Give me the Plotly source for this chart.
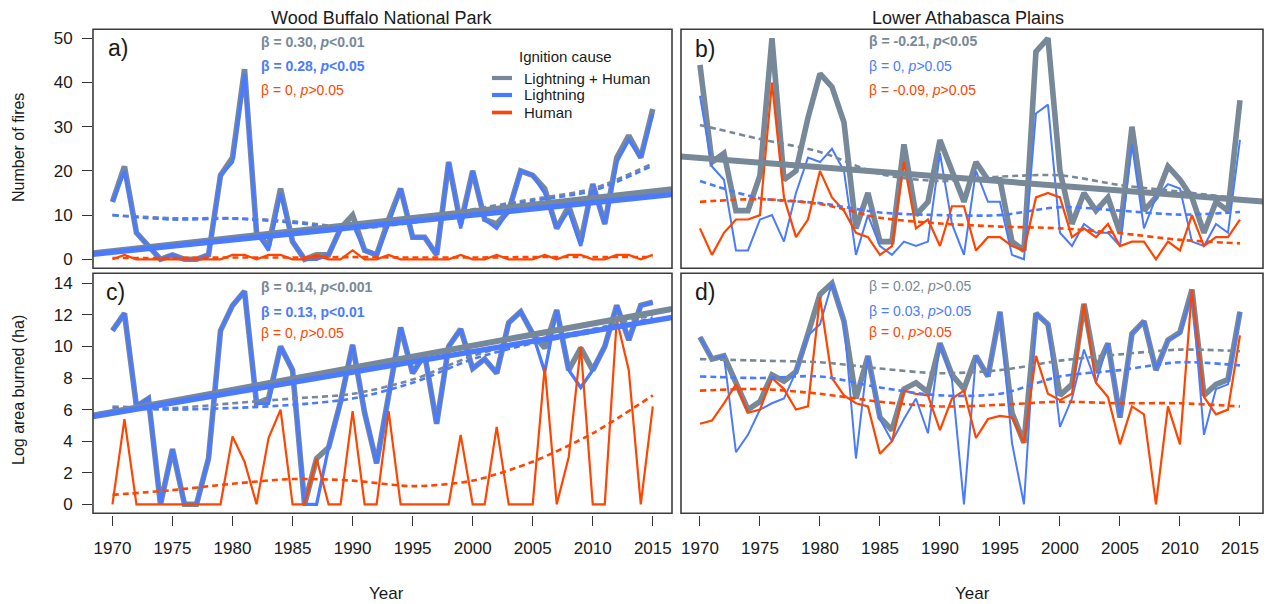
import plotly.graph_objects as go

# ---------------------------------------------------------------- data
years = list(range(1970, 2016))
knot_years = [1970, 1975, 1980, 1985, 1990, 1995, 2000, 2005, 2010, 2015]
tick_years = [1970, 1975, 1980, 1985, 1990, 1995, 2000, 2005, 2010, 2015]

# a) Wood Buffalo National Park - number of fires
wb_fires_total = [13, 21, 6, 3, 0, 1, 0, 0, 1, 19, 23, 43, 6, 3, 16, 4, 0, 1, 1, 7,
                  10, 2, 1, 9, 16, 5, 5, 1, 22, 8, 20, 9, 8, 11, 20, 19, 16, 7, 12, 4,
                  17, 8, 23, 28, 23, 34]
wb_fires_lightning = [13, 20, 6, 3, 0, 1, 0, 0, 1, 19, 22, 42, 6, 2, 15, 4, 0, 0, 1, 7,
                      8, 2, 1, 8, 16, 5, 5, 1, 22, 7, 20, 9, 7, 11, 20, 19, 15, 7, 11, 3,
                      17, 8, 22, 27, 23, 33]
wb_fires_human = [0, 1, 0, 0, 0, 0, 0, 0, 0, 0, 1, 1, 0, 1, 1, 0, 0, 1, 0, 0,
                  2, 0, 0, 1, 0, 0, 0, 0, 0, 1, 0, 0, 1, 0, 0, 0, 1, 0, 1, 1,
                  0, 0, 1, 1, 0, 1]
wb_fires_smooth_total = [10.0, 9.3, 9.3, 8.6, 7.2, 8.6, 11.3, 13.6, 16.0, 21.7]
wb_fires_smooth_lightning = [10.0, 9.0, 9.2, 8.3, 7.0, 8.3, 11.0, 13.2, 15.5, 21.2]
wb_fires_smooth_human = [0.3, 0.3, 0.4, 0.4, 0.5, 0.4, 0.4, 0.5, 0.5, 0.5]

# b) Lower Athabasca Plains - number of fires
lap_fires_total = [44, 22, 24, 11, 11, 19, 50, 18, 20, 32, 42, 39, 31, 7, 15, 4, 4, 26, 10, 13,
                   27, 20, 13, 22, 18, 18, 4, 2, 47, 50, 20, 8, 15, 11, 14, 6, 30, 11, 14, 21,
                   18, 14, 6, 13, 11, 36]
lap_fires_lightning = [37, 21, 18, 2, 2, 9, 10, 4, 15, 23, 22, 25, 20, 1, 10, 3, 1, 4, 3, 4,
                       24, 8, 1, 20, 13, 13, 1, 0, 33, 35, 6, 3, 8, 6, 6, 3, 26, 7, 14, 17,
                       16, 4, 3, 8, 6, 27]
lap_fires_human = [7, 1, 6, 9, 9, 10, 40, 14, 5, 9, 20, 14, 11, 6, 5, 1, 3, 22, 7, 9,
                   3, 12, 12, 2, 5, 5, 3, 2, 14, 15, 14, 5, 7, 5, 8, 3, 4, 4, 0, 4,
                   2, 10, 3, 5, 5, 9]
lap_fires_smooth_total = [30.4, 27.2, 24.3, 19.3, 17.7, 18.7, 19.0, 16.8, 15.3, 13.8]
lap_fires_smooth_lightning = [17.7, 13.8, 12.7, 10.6, 10.0, 10.0, 11.8, 11.0, 10.1, 10.7]
lap_fires_smooth_human = [13.0, 13.6, 12.5, 9.4, 8.1, 7.4, 7.0, 5.9, 4.4, 3.6]

# c) Wood Buffalo National Park - log area burned (ha)
wb_area_total = [11.0, 12.1, 6.2, 6.7, 0, 3.5, 0, 0, 2.9, 11.0, 12.6, 13.5, 6.4, 6.7, 10.0, 8.5,
                 0, 2.9, 3.6, 6.5, 10.1, 5.8, 2.6, 6.9, 11.2, 8.3, 9.5, 5.1, 10.0, 11.1, 8.6,
                 9.2, 8.3, 11.5, 12.2, 10.8, 9.9, 12.3, 8.5, 9.9, 8.5, 10.0, 12.6, 10.4, 12.6, 12.8]
wb_area_lightning = [11.0, 12.1, 6.2, 6.7, 0, 3.5, 0, 0, 2.9, 11.0, 12.6, 13.5, 6.4, 6.4, 10.0, 8.5,
                     0, 0, 3.6, 6.5, 10.1, 5.8, 2.6, 6.9, 11.2, 8.3, 9.5, 5.1, 10.0, 11.1, 8.6,
                     9.2, 8.3, 11.5, 12.2, 10.8, 8.4, 12.3, 8.5, 7.4, 8.5, 10.0, 12.6, 10.4, 12.6, 12.8]
wb_area_human = [0, 5.4, 0, 0, 0, 0, 0, 0, 0, 0, 4.3, 2.7, 0, 4.2, 6.0, 0, 0, 2.9, 0, 0,
                 5.9, 0, 0, 5.9, 0, 0, 0, 0, 0, 4.4, 0, 0, 4.9, 0, 0, 0, 8.7, 0, 3.0, 10.0,
                 0, 0, 11.7, 8.5, 0, 6.2]
wb_area_smooth_total = [6.2, 6.1, 6.4, 6.7, 7.0, 7.9, 9.4, 10.4, 11.1, 12.0]
wb_area_smooth_lightning = [6.1, 6.0, 6.1, 6.3, 6.7, 7.7, 9.2, 10.2, 10.9, 11.8]
wb_area_smooth_human = [0.6, 0.9, 1.3, 1.6, 1.5, 1.15, 1.5, 2.7, 4.5, 6.9]

# d) Lower Athabasca Plains - log area burned (ha)
lap_area_total = [10.6, 9.2, 9.4, 7.7, 6.0, 6.5, 8.2, 7.8, 8.4, 10.8, 13.3, 14.0, 11.6, 6.7, 9.4,
                  5.5, 4.7, 7.3, 7.7, 7.1, 10.2, 8.2, 7.3, 9.4, 8.1, 12.2, 5.8, 3.9, 12.1, 11.4,
                  6.9, 7.6, 12.7, 8.5, 10.2, 5.5, 10.8, 11.6, 8.5, 10.4, 10.9, 13.6, 6.9, 7.6, 7.9, 12.2]
lap_area_lightning = [10.6, 9.2, 9.4, 3.3, 4.4, 6.0, 6.4, 6.7, 8.4, 10.7, 11.4, 14.0, 11.6, 2.9, 9.4,
                      5.4, 4.0, 5.4, 6.7, 4.5, 10.2, 7.9, 0, 9.4, 8.1, 12.2, 3.9, 0, 12.1, 11.4,
                      4.9, 6.7, 9.8, 7.7, 10.2, 5.5, 10.8, 11.6, 8.5, 10.4, 10.8, 13.5, 4.4, 7.3, 7.6, 12.2]
lap_area_human = [5.1, 5.3, 6.4, 7.6, 5.8, 6.0, 8.0, 7.3, 6.0, 6.2, 13.1, 8.0, 6.9, 6.4, 6.2,
                  3.2, 4.0, 7.2, 7.0, 6.9, 4.7, 6.7, 7.2, 4.2, 5.4, 5.6, 5.5, 3.9, 9.4, 7.0,
                  6.6, 7.0, 12.7, 7.7, 6.8, 3.8, 6.2, 5.7, 0, 6.2, 3.8, 13.6, 6.8, 5.7, 6.0, 10.7]
lap_area_smooth_total = [9.2, 9.1, 9.0, 8.6, 8.3, 8.5, 9.1, 9.5, 9.8, 9.7]
lap_area_smooth_lightning = [8.1, 8.0, 8.1, 7.4, 6.9, 7.0, 8.1, 8.5, 9.0, 8.8]
lap_area_smooth_human = [7.2, 7.3, 7.0, 6.5, 6.2, 6.3, 6.5, 6.4, 6.4, 6.2]

# significant linear trends: slope (beta) and fitted value at the period midpoint
fit_mid_year = 1992.5
wb_fires_fit_total = (0.30, 8.6)
wb_fires_fit_lightning = (0.28, 7.9)
lap_fires_fit_total = (-0.21, 18.2)
wb_area_fit_total = (0.14, 9.0)
wb_area_fit_lightning = (0.13, 8.7)

# ---------------------------------------------------------------- styling
GREY = "#778899"
BLUE = "#4a7bff"
RED = "#ff4500"
FONT = "Liberation Sans, Arial, sans-serif"
W, H = 1270, 604


def px_x(p):
    return p / W


def px_y(p):
    return 1 - p / H


LEFT_DOM = [px_x(93), px_x(672)]
RIGHT_DOM = [px_x(681), px_x(1263)]
TOP_DOM = [px_y(268.3), px_y(29.3)]
BOT_DOM = [px_y(513.3), px_y(273.3)]
LEFT_RANGE = [1968.38, 2016.6]
RIGHT_RANGE = [1968.42, 2016.92]
FIRES_RANGE = [-2.04, 52.04]
AREA_RANGE = [-0.57, 14.634]

fig = go.Figure()


def add_panel(xa, ya, xrange, total, lightning, human, sm_total, sm_light, sm_human,
              light_width, fits):
    common = dict(xaxis=xa, yaxis=ya, mode="lines", showlegend=False, hoverinfo="skip")
    fig.add_trace(go.Scatter(x=years, y=total, line=dict(color=GREY, width=5.6), **common))
    fig.add_trace(go.Scatter(x=years, y=lightning, line=dict(color=BLUE, width=light_width), **common))
    fig.add_trace(go.Scatter(x=years, y=human, line=dict(color=RED, width=2.2), **common))
    for vals, col in ((sm_total, GREY), (sm_light, BLUE), (sm_human, RED)):
        fig.add_trace(go.Scatter(x=knot_years, y=vals, line=dict(color=col, width=2.6, dash="6px,4px",
                                                                 shape="spline", smoothing=0.8),
                                 **common))
    for (beta, mid), col, wd in fits:
        xs = [xrange[0], xrange[1]]
        ys = [mid + beta * (xv - fit_mid_year) for xv in xs]
        fig.add_trace(go.Scatter(x=xs, y=ys, line=dict(color=col, width=wd), **common))


add_panel("x", "y", LEFT_RANGE, wb_fires_total, wb_fires_lightning, wb_fires_human,
          wb_fires_smooth_total, wb_fires_smooth_lightning, wb_fires_smooth_human, 3.3,
          [(wb_fires_fit_total, GREY, 6), (wb_fires_fit_lightning, BLUE, 5.5)])
add_panel("x2", "y2", RIGHT_RANGE, lap_fires_total, lap_fires_lightning, lap_fires_human,
          lap_fires_smooth_total, lap_fires_smooth_lightning, lap_fires_smooth_human, 2.0,
          [(lap_fires_fit_total, GREY, 6)])
add_panel("x3", "y3", LEFT_RANGE, wb_area_total, wb_area_lightning, wb_area_human,
          wb_area_smooth_total, wb_area_smooth_lightning, wb_area_smooth_human, 3.3,
          [(wb_area_fit_total, GREY, 6), (wb_area_fit_lightning, BLUE, 5.5)])
add_panel("x4", "y4", RIGHT_RANGE, lap_area_total, lap_area_lightning, lap_area_human,
          lap_area_smooth_total, lap_area_smooth_lightning, lap_area_smooth_human, 2.0, [])

# ---------------------------------------------------------------- axes
hidden_x = dict(showticklabels=False, ticks="", showgrid=False, zeroline=False, showline=False)
bottom_x = dict(anchor="free", position=px_y(515), tickmode="array", tickvals=tick_years,
                ticks="outside", ticklen=10, tickwidth=1.3, tickcolor="#333",
                tickfont=dict(size=17, color="#1a1a1a", family=FONT), ticklabelstandoff=8,
                showgrid=False, zeroline=False, showline=False)
left_y = dict(ticks="outside", ticklen=10, tickwidth=1.3, tickcolor="#333",
              tickfont=dict(size=17, color="#1a1a1a", family=FONT), ticklabelstandoff=6,
              showgrid=False, zeroline=False, showline=False)
hidden_y = dict(showticklabels=False, ticks="", showgrid=False, zeroline=False, showline=False)

fig.update_layout(
    width=W, height=H, margin=dict(l=0, r=0, t=0, b=0),
    paper_bgcolor="white", plot_bgcolor="white",
    font=dict(family=FONT, color="#1a1a1a"),
    xaxis=dict(domain=LEFT_DOM, range=LEFT_RANGE, anchor="y", **hidden_x),
    yaxis=dict(domain=TOP_DOM, range=FIRES_RANGE, anchor="x", tickvals=[0, 10, 20, 30, 40, 50], **left_y),
    xaxis2=dict(domain=RIGHT_DOM, range=RIGHT_RANGE, anchor="y2", **hidden_x),
    yaxis2=dict(domain=TOP_DOM, range=FIRES_RANGE, anchor="x2", **hidden_y),
    xaxis3=dict(domain=LEFT_DOM, range=LEFT_RANGE, **bottom_x),
    yaxis3=dict(domain=BOT_DOM, range=AREA_RANGE, anchor="x3", tickvals=list(range(0, 15, 2)), **left_y),
    xaxis4=dict(domain=RIGHT_DOM, range=RIGHT_RANGE, **bottom_x),
    yaxis4=dict(domain=BOT_DOM, range=AREA_RANGE, anchor="x4", **hidden_y),
)

# panel frames
shapes = []
for xa, ya in (("x", "y"), ("x2", "y2"), ("x3", "y3"), ("x4", "y4")):
    shapes.append(dict(type="rect", xref=f"{xa} domain", yref=f"{ya} domain",
                       x0=0, x1=1, y0=0, y1=1, line=dict(color="#3c3c3c", width=1.6)))

# legend keys
legend_items = [("Lightning + Human", GREY, 4.2, 78), ("Lightning", BLUE, 4.2, 95), ("Human", RED, 3.6, 112.5)]
for _, col, wd, yy in legend_items:
    shapes.append(dict(type="line", xref="paper", yref="paper", x0=px_x(492), x1=px_x(512),
                       y0=px_y(yy), y1=px_y(yy), line=dict(color=col, width=wd)))
fig.update_layout(shapes=shapes)

ann = []


def text(x, y, s, size, color="#1a1a1a", xanchor="center", angle=0):
    ann.append(dict(x=px_x(x), y=px_y(y), xref="paper", yref="paper", text=s, showarrow=False,
                    xanchor=xanchor, yanchor="middle", textangle=angle,
                    font=dict(size=size, color=color, family=FONT)))


text(381, 18, "Wood Buffalo National Park", 18)
text(968, 18, "Lower Athabasca Plains", 18)
text(18, 148, "Number of fires", 16, angle=-90)
text(18, 390, "Log area burned (ha)", 16, angle=-90)
text(386, 593, "Year", 17)
text(972, 593, "Year", 17)
text(118, 48, "a)", 23)
text(705, 49, "b)", 23)
text(115, 292, "c)", 23)
text(705, 292, "d)", 23)

text(565, 56, "Ignition cause", 15)
for label, _, _, yy in legend_items:
    text(522, yy, label, 15, xanchor="left")

# trend statistics
text(259, 42, "<b>β = 0.30, <i>p</i>&lt;0.01</b>", 14, GREY, "left")
text(259, 66, "<b>β = 0.28, <i>p</i>&lt;0.05</b>", 14, BLUE, "left")
text(259, 90, "β = 0, <i>p</i>&gt;0.05", 14, RED, "left")

text(867, 41, "<b>β = -0.21, <i>p</i>&lt;0.05</b>", 14, GREY, "left")
text(867, 66, "β = 0, <i>p</i>&gt;0.05", 14, BLUE, "left")
text(867, 90, "β = -0.09, <i>p</i>&gt;0.05", 14, RED, "left")

text(259, 287, "<b>β = 0.14, <i>p</i>&lt;0.001</b>", 14, GREY, "left")
text(259, 312, "<b>β = 0.13, p&lt;0.01</b>", 14, BLUE, "left")
text(259, 333, "β = 0, <i>p</i>&gt;0.05", 14, RED, "left")

text(867, 286, "β = 0.02, <i>p</i>&gt;0.05", 14, GREY, "left")
text(867, 311, "β = 0.03, <i>p</i>&gt;0.05", 14, BLUE, "left")
text(867, 332, "β = 0, <i>p</i>&gt;0.05", 14, RED, "left")

fig.update_layout(annotations=ann)

fig.write_html("out.html")
